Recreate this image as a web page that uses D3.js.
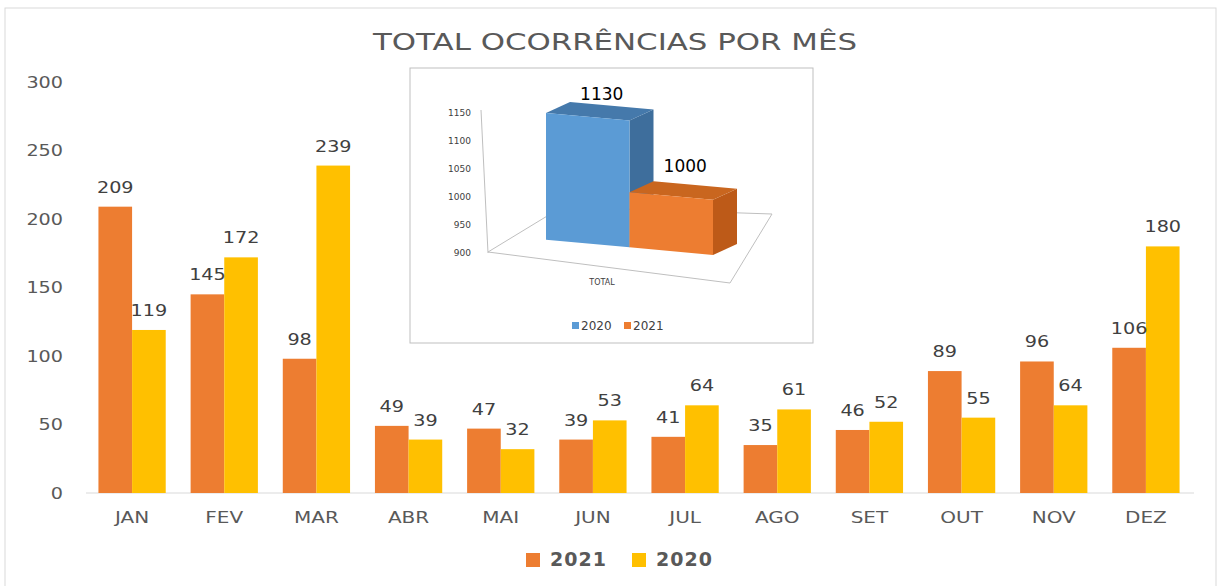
<!DOCTYPE html>
<html lang="pt">
<head>
<meta charset="utf-8">
<script src="https://d3js.org/d3.v7.min.js"></script>
<style>
  body { margin: 0; background: #fff; }
  svg { display: block; }
  text { font-family: "DejaVu Sans", sans-serif; }
</style>
</head>
<body>
<svg width="1221" height="586"></svg>
<script>
// main chart data
var months = ["JAN", "FEV", "MAR", "ABR", "MAI", "JUN", "JUL", "AGO", "SET", "OUT", "NOV", "DEZ"];
var series = ["2021", "2020"];
var vals2021 = [209, 145, 98, 49, 47, 39, 41, 35, 46, 89, 96, 106];
var vals2020 = [119, 172, 239, 39, 32, 53, 64, 61, 52, 55, 64, 180];
var yTicks = [0, 50, 100, 150, 200, 250, 300];
var colors = { "2021": "#ED7D31", "2020": "#FFC000" };

// inset chart data
var insetCats = ["2020", "2021"];
var insetVals = [1130, 1000];
var insetTicks = [900, 950, 1000, 1050, 1100, 1150];
var insetColors = { "2020": ["#5B9BD5", "#3E6E9C", "#4579AB"], "2021": ["#ED7D31", "#BD5A18", "#C9661F"] };

var svg = d3.select("svg");

// stretched text helper (the original text is rendered wide)
function wide(sel, fx, fy, sx) {
  sel.attr("transform", function (d, i) {
    return "translate(" + fx(d, i) + "," + fy(d, i) + ") scale(" + sx + ",1)";
  });
  return sel;
}

// outer frame
svg.append("rect")
  .attr("x", 5).attr("y", 8)
  .attr("width", 1211).attr("height", 600)
  .attr("fill", "none")
  .attr("stroke", "#D9D9D9");

// title
svg.append("text")
  .attr("x", 373).attr("y", 50)
  .attr("font-family", "'Open Sans', sans-serif")
  .attr("font-size", 23)
  .attr("fill", "#595959")
  .attr("textLength", 484)
  .attr("lengthAdjust", "spacingAndGlyphs")
  .text("TOTAL OCORRÊNCIAS POR MÊS");

var x0 = d3.scaleBand().domain(months).range([86, 1192]).paddingInner(0.27).paddingOuter(0.135);
var x1 = d3.scaleBand().domain(series).range([0, x0.bandwidth()]);
var y = d3.scaleLinear().domain([0, 300]).range([493, 82]);

// y axis labels
wide(svg.append("g").selectAll("text")
  .data(yTicks)
  .enter().append("text"),
  function () { return 63; }, function (d) { return y(d); }, 1.2)
  .attr("dy", "0.36em")
  .attr("text-anchor", "end")
  .attr("font-size", 16)
  .attr("fill", "#595959")
  .text(function (d) { return d; });

// baseline
svg.append("line")
  .attr("x1", 86).attr("x2", 1194)
  .attr("y1", y(0)).attr("y2", y(0))
  .attr("stroke", "#D9D9D9");

// x labels
wide(svg.append("g").selectAll("text")
  .data(months)
  .enter().append("text"),
  function (d) { return x0(d) + x0.bandwidth() / 2; }, function () { return 523; }, 1.25)
  .attr("text-anchor", "middle")
  .attr("font-size", 16)
  .attr("fill", "#595959")
  .text(function (d) { return d; });

// bars
var rows = months.map(function (m, i) {
  return { month: m, values: [{ s: "2021", v: vals2021[i] }, { s: "2020", v: vals2020[i] }] };
});
var groups = svg.append("g").selectAll("g")
  .data(rows)
  .enter().append("g")
  .attr("transform", function (d) { return "translate(" + x0(d.month) + ",0)"; });

groups.selectAll("rect")
  .data(function (d) { return d.values; })
  .enter().append("rect")
  .attr("x", function (d) { return x1(d.s); })
  .attr("y", function (d) { return y(d.v); })
  .attr("width", x1.bandwidth())
  .attr("height", function (d) { return y(0) - y(d.v); })
  .attr("fill", function (d) { return colors[d.s]; });

wide(groups.selectAll("text")
  .data(function (d) { return d.values; })
  .enter().append("text"),
  function (d) { return x1(d.s) + x1.bandwidth() / 2; }, function (d) { return y(d.v) - 14; }, 1.2)
  .attr("text-anchor", "middle")
  .attr("font-size", 16)
  .attr("fill", "#404040")
  .text(function (d) { return d.v; });

// main legend
var leg = svg.append("g").selectAll("g")
  .data(series)
  .enter().append("g")
  .attr("transform", function (d, i) { return "translate(" + (526 + i * 106) + ",553)"; });
leg.append("rect")
  .attr("width", 14).attr("height", 14)
  .attr("fill", function (d) { return colors[d]; });
leg.append("text")
  .attr("x", 24).attr("y", 13)
  .attr("font-size", 19)
  .attr("font-weight", "bold")
  .attr("letter-spacing", 1)
  .attr("fill", "#595959")
  .text(function (d) { return d; });

// ---- inset 3D chart ----
var inset = svg.append("g");
inset.append("rect")
  .attr("x", 410).attr("y", 68)
  .attr("width", 403).attr("height", 275)
  .attr("fill", "#fff")
  .attr("stroke", "#BFBFBF");

var yBack = d3.scaleLinear().domain([900, 1150]).range([253, 113]);
var yFront = d3.scaleLinear().domain([1000, 1130]).range([184.7, 113]);
var xIn = d3.scaleBand().domain(insetCats).range([546, 713]);
var dx = 24, dy = -11, skew = 0.09;
function pt(x, v, back) {
  var px = x + (back ? dx : 0);
  var py = yFront(v) + skew * (x - xIn.range()[0]) + (back ? dy : 0);
  return px + "," + py;
}

// floor and back-left edge
inset.append("path")
  .attr("d", "M488,252 L730,283 L772,214 L562,207 Z")
  .attr("fill", "none")
  .attr("stroke", "#BFBFBF");
inset.append("line")
  .attr("x1", 481).attr("y1", yBack(1150) - 3)
  .attr("x2", 488).attr("y2", yBack(900))
  .attr("stroke", "#BFBFBF");

inset.append("g").selectAll("text")
  .data(insetTicks)
  .enter().append("text")
  .attr("x", 471)
  .attr("y", function (d) { return yBack(d); })
  .attr("dy", "0.35em")
  .attr("text-anchor", "end")
  .attr("font-family", "'Liberation Serif', serif")
  .attr("font-size", 9)
  .attr("fill", "#404040")
  .text(function (d) { return d; });

insetCats.forEach(function (c, i) {
  var v = insetVals[i];
  var xl = xIn(c), xr = xl + xIn.bandwidth();
  // side
  inset.append("polygon")
    .attr("points", [pt(xr, v), pt(xr, v, true), pt(xr, 900, true), pt(xr, 900)].join(" "))
    .attr("fill", insetColors[c][1]);
  // top
  inset.append("polygon")
    .attr("points", [pt(xl, v), pt(xr, v), pt(xr, v, true), pt(xl, v, true)].join(" "))
    .attr("fill", insetColors[c][2]);
  // front
  inset.append("polygon")
    .attr("points", [pt(xl, v), pt(xr, v), pt(xr, 900), pt(xl, 900)].join(" "))
    .attr("fill", insetColors[c][0]);
  inset.append("text")
    .attr("x", xl + xIn.bandwidth() / 2 + 14)
    .attr("y", yFront(v) - 13)
    .attr("text-anchor", "middle")
    .attr("font-family", "'Liberation Sans', sans-serif")
    .attr("font-size", 17)
    .attr("fill", "#000")
    .text(v);
});

inset.append("text")
  .attr("x", 602).attr("y", 285)
  .attr("text-anchor", "middle")
  .attr("font-family", "'Liberation Sans', sans-serif")
  .attr("font-size", 8)
  .attr("fill", "#404040")
  .text("TOTAL");

var ileg = inset.append("g").selectAll("g")
  .data(insetCats)
  .enter().append("g")
  .attr("transform", function (d, i) { return "translate(" + (572 + i * 52) + ",322)"; });
ileg.append("rect")
  .attr("width", 7).attr("height", 7)
  .attr("fill", function (d) { return insetColors[d][0]; });
ileg.append("text")
  .attr("x", 9).attr("y", 8)
  .attr("font-family", "'Liberation Sans', sans-serif")
  .attr("font-size", 12)
  .attr("fill", "#404040")
  .text(function (d) { return d; });
</script>
</body>
</html>
